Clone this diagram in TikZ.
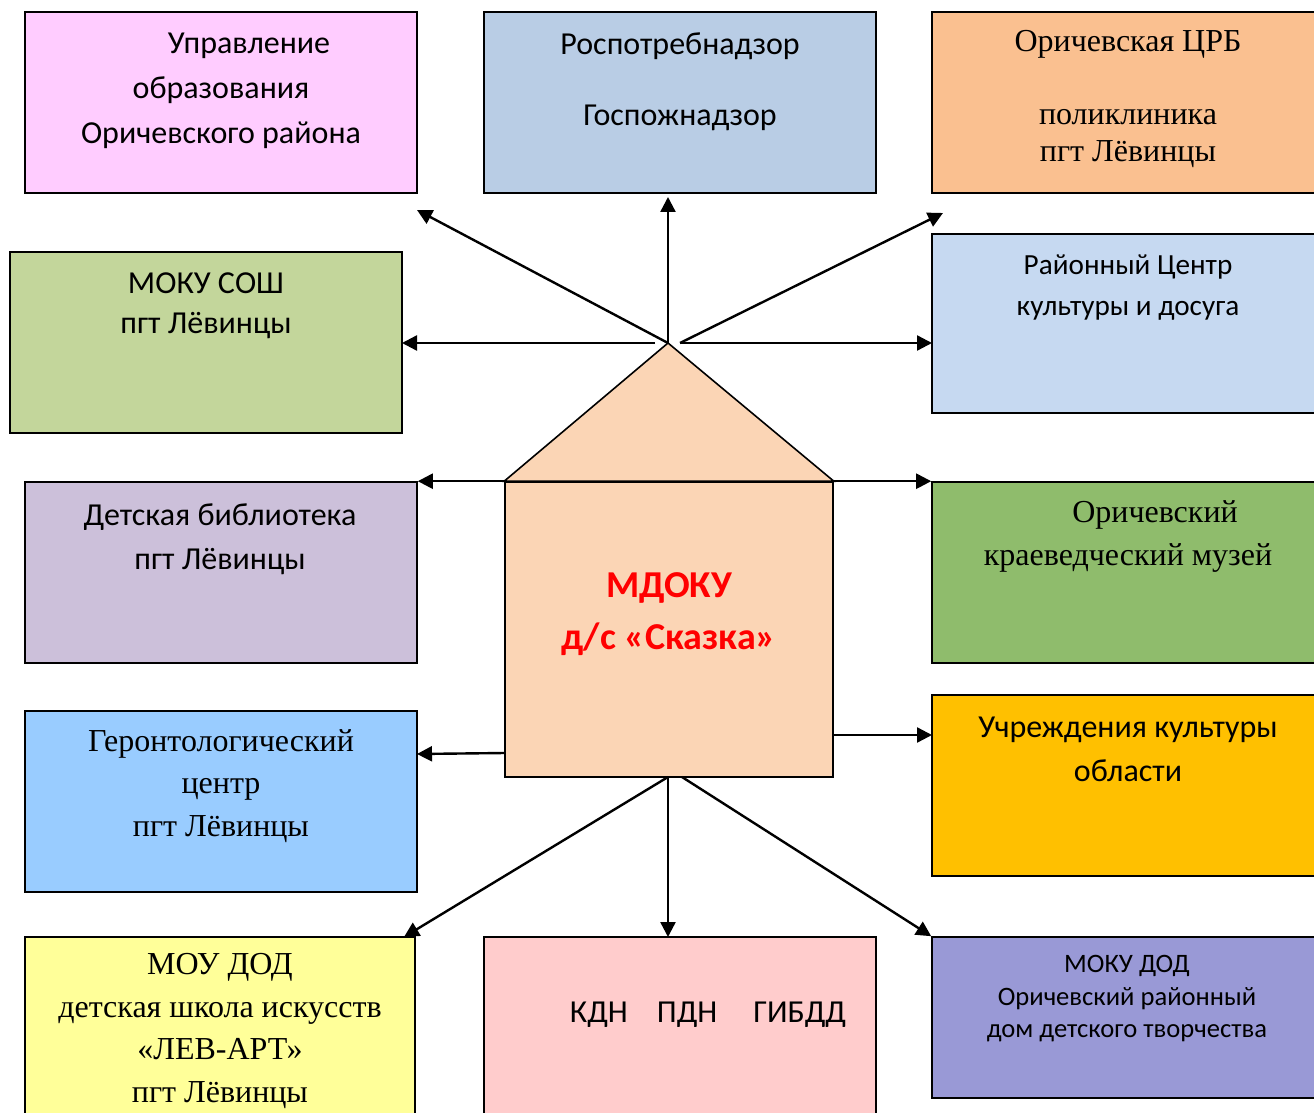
\documentclass[tikz,border=0pt]{standalone}
\usepackage{fontspec}
\setmainfont{Carlito}
\newfontfamily\tnr{Liberation Serif}
\usetikzlibrary{arrows.meta,fit}
\definecolor{cUpr}{HTML}{FFCCFF}
\definecolor{cRos}{HTML}{B9CDE5}
\definecolor{cCrb}{HTML}{FAC090}
\definecolor{cSosh}{HTML}{C3D69B}
\definecolor{cRck}{HTML}{C6D9F1}
\definecolor{cBibl}{HTML}{CCC0DA}
\definecolor{cMuz}{HTML}{8FBC6C}
\definecolor{cGer}{HTML}{99CCFF}
\definecolor{cKult}{HTML}{FFC000}
\definecolor{cDsi}{HTML}{FFFF99}
\definecolor{cKdn}{HTML}{FFCCCC}
\definecolor{cDdt}{HTML}{9999D6}
\definecolor{cSad}{HTML}{FBD5B5}
\begin{document}
\begin{tikzpicture}[x=0.5pt, y=-0.5pt, >={Triangle[length=7.5pt,width=7.5pt]},
	box/.style={draw, line width=0.8pt, inner sep=0pt},
	txt/.style={align=center, font=\fontsize{16}{22.5}\selectfont},
	ser/.style={align=center, font=\tnr\fontsize{16}{21.3}\selectfont},
	arr/.style={->, line width=1.2pt}]
	\useasboundingbox (0,0) rectangle (1314,1113);
	% boxes
	\node[box, fill=cUpr, fit={(25,12) (417,193)}] (upr) {};
	\node[box, fill=cRos, fit={(484,12) (876,193)}] (ros) {};
	\node[box, fill=cCrb, fit={(932,12) (1330,193)}] (crb) {};
	\node[box, fill=cSosh, fit={(10,252) (402,433)}] (sosh) {};
	\node[box, fill=cRck, fit={(932,234) (1330,413)}] (rck) {};
	\node[box, fill=cBibl, fit={(25,482) (417,663)}] (bibl) {};
	\node[box, fill=cMuz, fit={(932,482) (1330,663)}] (muz) {};
	\node[box, fill=cGer, fit={(25,711) (417,892)}] (ger) {};
	\node[box, fill=cKult, fit={(932,695) (1330,876)}] (kult) {};
	\node[box, fill=cDsi, fit={(25,937) (415,1130)}] (dsi) {};
	\node[box, fill=cKdn, fit={(484,937) (876,1130)}] (kdn) {};
	\node[box, fill=cDdt, fit={(932,937) (1330,1098)}] (ddt) {};
	% house
	\node[box, fill=cSad, fit={(505,482) (833,777)}] (sad) {};
	\coordinate (apex) at (668,343);
	\draw[line width=0.8pt, fill=cSad] (sad.north west) -- (apex) -- (sad.north east) -- cycle;
	% texts
	\node[txt] (upr-t) at (221,91) {\hspace*{28pt}Управление\\образования\\Оричевского района};
	\node[txt] (ros-t) at (680,82) {Роспотребнадзор\\[13pt]Госпожнадзор};
	\node[ser, font=\tnr\fontsize{16}{18.5}\selectfont] (crb-t) at (1128,99) {Оричевская ЦРБ\\[18pt]поликлиника\\пгт Лёвинцы};
	\node[txt, font=\fontsize{16}{20}\selectfont] (sosh-t) at (206,306) {МОКУ СОШ\\пгт Лёвинцы};
	\node[txt, font=\fontsize{14.6}{20.5}\selectfont] (rck-t) at (1128,288) {Районный Центр\\культуры и досуга};
	\node[txt, font=\fontsize{16}{22}\selectfont] (bibl-t) at (220,539) {Детская библиотека\\пгт Лёвинцы};
	\node[ser, font=\tnr\fontsize{16}{21.5}\selectfont] (muz-t) at (1128,536) {\hspace*{27pt}Оричевский\\краеведческий музей};
	\node[ser] (ger-t) at (221,786) {Геронтологический\\центр\\пгт Лёвинцы};
	\node[txt, font=\fontsize{16}{22}\selectfont] (kult-t) at (1128,749) {Учреждения культуры\\области};
	\node[ser] (dsi-t) at (220,1031) {МОУ ДОД\\детская школа искусств\\«ЛЕВ-АРТ»\\пгт Лёвинцы};
	\node[txt] (kdn-t) at (708,1015) {КДН\hspace{14.5pt}ПДН\hspace{18pt}ГИБДД};
	\node[txt, font=\fontsize{13.3}{16.25}\selectfont] (ddt-t) at (1127,999) {МОКУ ДОД\\Оричевский районный\\дом детского творчества};
	\node[txt, font=\fontsize{19}{26}\selectfont\bfseries, text=red] (sad-t) at (669,614) {МДОКУ\\д/с «Сказка»};
	% arrow ends
	\coordinate (a1) at (417,210);
	\coordinate (a2) at (668,197);
	\coordinate (a3s) at (680,343);
	\coordinate (a3) at (943,213);
	\coordinate (a4s) at (655,343);
	\coordinate (a4) at (402,343);
	\coordinate (a5) at (932,343);
	\coordinate (a6s) at (505,753);
	\coordinate (a6) at (417,754);
	\coordinate (a7s) at (833,735);
	\coordinate (a7) at (932,735);
	\coordinate (a8s) at (668,777);
	\coordinate (a8) at (404,937);
	\coordinate (a9) at (668,937);
	\coordinate (a10s) at (682,777);
	% arrows
	\draw[arr] (apex) -- (a1);
	\draw[arr] (apex) -- (a2);
	\draw[arr] (a3s) -- (a3);
	\draw[arr] (a4s) -- (a4);
	\draw[arr] (a3s) -- (a5);
	\draw[arr] (sad.north west) -- (bibl.north east);
	\draw[arr] (sad.north east) -- (muz.north west);
	\draw[arr] (a6s) -- (a6);
	\draw[arr] (a7s) -- (a7);
	\draw[arr] (a8s) -- (a8);
	\draw[arr] (a8s) -- (a9);
	\draw[arr] (a10s) -- (ddt.north west);
\end{tikzpicture}
\end{document}
